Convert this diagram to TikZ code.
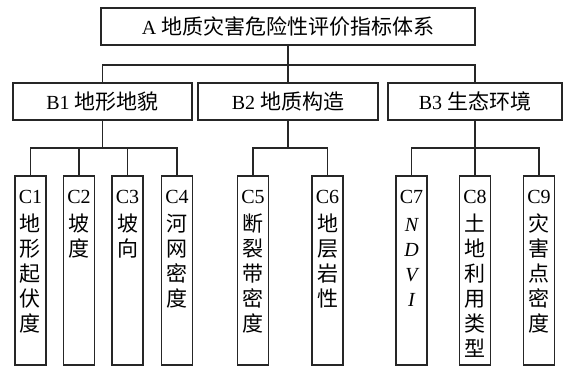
\documentclass[tikz,border=0pt]{standalone}
\usepackage{fontspec}
\setmainfont{Liberation Serif}
\newfontfamily\cjk[Scale=1.05]{Noto Sans CJK SC}
\tikzset{
  box/.style={draw=black!85, line width=1.1pt, inner sep=0pt, align=center,
    font=\fontsize{20}{25}\selectfont},
  topbox/.style={box, minimum width=374pt, minimum height=37pt},
  midbox/.style={box, minimum height=37pt},
  link/.style={draw=black!85, line width=1.1pt},
}
\newcommand{\ccol}[2]{\parbox[c][189pt][t]{31pt}{\centering\fontsize{20}{25}\selectfont\rule{0pt}{27pt}#1\\[3pt]#2}}
\begin{document}
\begin{tikzpicture}[x=1pt,y=-1pt]
\useasboundingbox (0,0) rectangle (565,366);
\node[topbox] (A) at (288,26.5) {A {\cjk 地质灾害危险性评价指标体系}};
\node[midbox, minimum width=179pt] (B1) at (102.5,101.5) {B1 {\cjk 地形地貌}};
\node[midbox, minimum width=180pt] (B2) at (288,101.5) {B2 {\cjk 地质构造}};
\node[midbox, minimum width=174pt] (B3) at (475,101.5) {B3 {\cjk 生态环境}};
\node[box] (C1) at (30.5,270.5) {\ccol{C1}{\cjk 地\\形\\起\\伏\\度}};
\node[box] (C2) at (79,270.5) {\ccol{C2}{\cjk 坡\\度}};
\node[box] (C3) at (127.5,270.5) {\ccol{C3}{\cjk 坡\\向}};
\node[box] (C4) at (177,270.5) {\ccol{C4}{\cjk 河\\网\\密\\度}};
\node[box] (C5) at (253,270.5) {\ccol{C5}{\cjk 断\\裂\\带\\密\\度}};
\node[box] (C6) at (327.5,270.5) {\ccol{C6}{\cjk 地\\层\\岩\\性}};
\node[box] (C7) at (411.5,270.5) {\ccol{C7}{\itshape N\\D\\V\\I}};
\node[box] (C8) at (475,270.5) {\ccol{C8}{\cjk 土\\地\\利\\用\\类\\型}};
\node[box] (C9) at (539,270.5) {\ccol{C9}{\cjk 灾\\害\\点\\密\\度}};
\coordinate (busA) at (288,65);
\coordinate (bus1) at (102.5,148);
\coordinate (bus2) at (288,148);
\coordinate (bus3) at (475,148);
\draw[link] (A.south) -- (B2.north);
\draw[link] (B1.north) |- (busA) -| (B3.north);
\draw[link] (B1.south) -- (bus1);
\draw[link] (C1.north) |- (bus1) -| (C4.north);
\draw[link] (C2.north) -- (C2.north |- bus1);
\draw[link] (C3.north) -- (C3.north |- bus1);
\draw[link] (B2.south) -- (bus2);
\draw[link] (C5.north) |- (bus2) -| (C6.north);
\draw[link] (B3.south) -- (bus3);
\draw[link] (C7.north) |- (bus3) -| (C9.north);
\draw[link] (C8.north) -- (bus3);
\end{tikzpicture}
\end{document}
